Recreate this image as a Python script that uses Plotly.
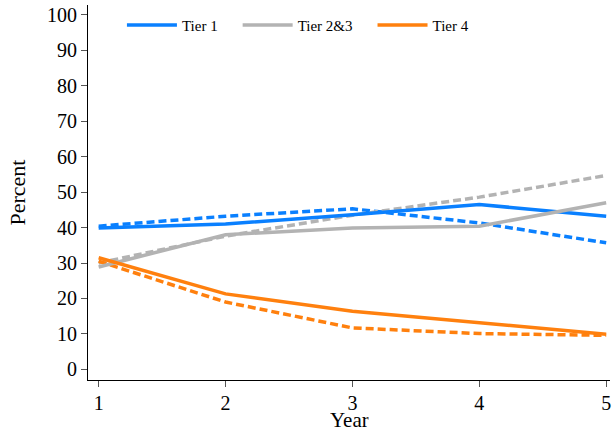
import plotly.graph_objects as go

years = [1, 2, 3, 4, 5]

# solid lines
tier1 = [39.9, 41.0, 43.6, 46.5, 43.2]
tier23 = [28.9, 38.0, 39.9, 40.4, 47.0]
tier4 = [31.5, 21.3, 16.4, 13.1, 9.9]

# dashed lines
tier1_dash = [40.4, 43.2, 45.3, 41.3, 35.7]
tier23_dash = [30.0, 37.6, 43.5, 48.6, 54.7]
tier4_dash = [30.5, 19.0, 11.7, 10.1, 9.6]

y_ticks = [0, 10, 20, 30, 40, 50, 60, 70, 80, 90, 100]

BLUE = "#0a80ff"
GRAY = "#b3b3b3"
ORANGE = "#ff800e"
FONT = "Liberation Serif"
PAD = "\u00a0\u00a0\u00a0\u00a0"

fig = go.Figure()

series = [
    ("Tier 1", tier1, tier1_dash, BLUE),
    ("Tier 2&3", tier23, tier23_dash, GRAY),
    ("Tier 4", tier4, tier4_dash, ORANGE),
]
for name, solid, dashed, color in series:
    fig.add_trace(go.Scatter(x=years, y=dashed, mode="lines", showlegend=False,
                             line={"color": color, "width": 3.5, "dash": "8px,4px"}))
for name, solid, dashed, color in series:
    fig.add_trace(go.Scatter(x=years, y=solid, mode="lines", name=name + PAD,
                             line={"color": color, "width": 3.5}))

axis_common = dict(
    showline=True, linecolor="black", linewidth=1,
    ticks="outside", ticklen=6, tickcolor="#555555", tickwidth=1,
    showgrid=False, zeroline=False, mirror=False,
    tickfont={"family": FONT, "size": 20, "color": "black"},
)

fig.update_xaxes(range=[0.916, 5.03], tickvals=years, ticklabelstandoff=-1, **axis_common)
fig.update_yaxes(range=[-3, 102.8], tickvals=y_ticks, **axis_common)

# axis titles as annotations so they sit where the reference has them
title_font = {"family": FONT, "size": 21, "color": "black"}
fig.add_annotation(text="Year", xref="paper", yref="paper", x=0.5, y=0, yshift=-29,
                   height=20, borderpad=0, valign="middle",
                   xanchor="center", yanchor="top", showarrow=False, font=title_font)
fig.add_annotation(text="Percent", xref="paper", yref="paper", x=0, y=0.5, xshift=-71,
                   xanchor="center", yanchor="middle", textangle=-90, showarrow=False,
                   font={"family": FONT, "size": 22, "color": "black"})

fig.update_layout(
    width=613, height=432,
    plot_bgcolor="white", paper_bgcolor="white",
    margin={"l": 88, "r": 3, "t": 5, "b": 52, "autoexpand": False},
    legend={"orientation": "h", "x": 0.065, "y": 0.99, "xanchor": "left", "yanchor": "top",
            "font": {"family": FONT, "size": 15, "color": "black"}, "itemwidth": 50,
            "bgcolor": "rgba(0,0,0,0)"},
)

fig.write_html("out.html", config={"displayModeBar": False},
               post_script="document.body.style.margin='0';")
